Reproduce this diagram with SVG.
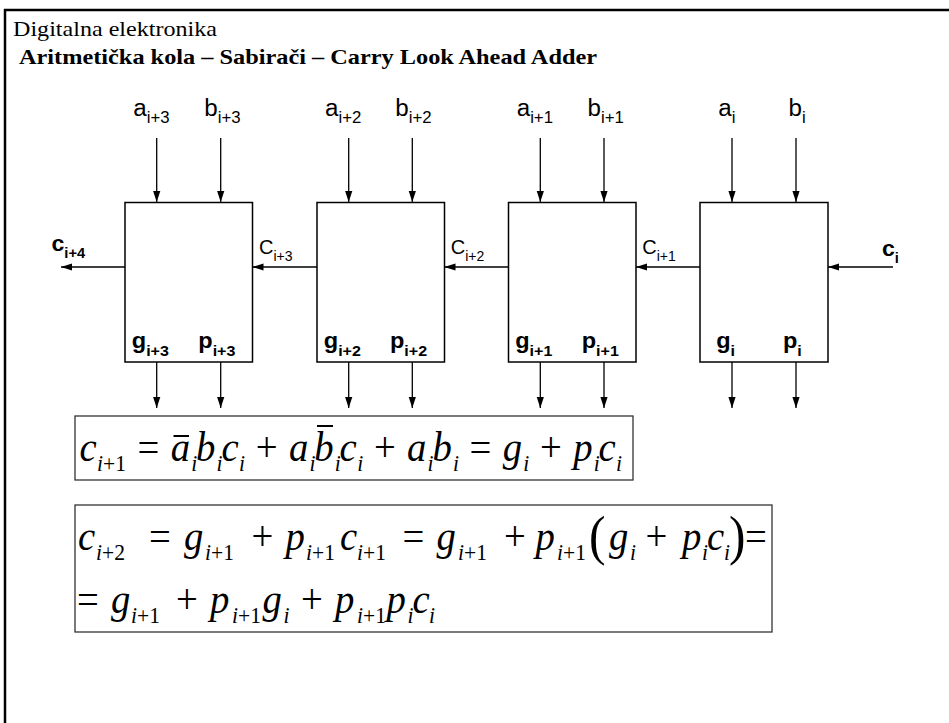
<svg xmlns="http://www.w3.org/2000/svg" width="949" height="723" viewBox="0 0 949 723">
<defs>
<marker id="ah" markerUnits="userSpaceOnUse" markerWidth="11" markerHeight="8" refX="11" refY="4" orient="auto"><path d="M0,0.4 L11,4 L0,7.6 z" fill="#000"/></marker>
<style>
.frame{stroke:#000;stroke-width:2.5;fill:none}
.blk{fill:#fff;stroke:#000;stroke-width:1.5}
.wire{stroke:#000;stroke-width:1.3;fill:none;marker-end:url(#ah)}
.fbox{fill:#fff;stroke:#333;stroke-width:1.3}
.bar{stroke:#000;stroke-width:1.8}
.lab{font-family:"Liberation Sans",Arial,sans-serif;font-size:22px;fill:#000}
.inp{font-size:23px}
.inps{font-size:16px}
.labs{font-size:15px}
.car{font-size:20px}
.cars{font-size:14px}
.bld{font-weight:bold}
.t1{font-family:"Liberation Serif","Times New Roman",serif;font-size:22px;fill:#000}
.t2{font-family:"Liberation Serif","Times New Roman",serif;font-size:21.5px;font-weight:bold;fill:#000}
.mv{font-family:"Liberation Serif","Times New Roman",serif;font-style:italic;font-size:43px;fill:#000}
.ms{font-family:"Liberation Serif","Times New Roman",serif;font-style:italic;font-size:24px;fill:#000}
.up{font-style:normal}
.mp{font-family:"Liberation Serif","Times New Roman",serif;font-size:55px;fill:#000}
</style>
</defs>
<rect width="949" height="723" fill="#fff"/>
<g id="frame">
<path class="frame" d="M4 10 H949 M5 9 V723"/>
</g>
<g id="title">
<text class="t1" x="13" y="36" textLength="204" lengthAdjust="spacingAndGlyphs">Digitalna elektronika</text>
<text class="t2" x="19" y="64" textLength="578" lengthAdjust="spacingAndGlyphs">Aritmetička kola – Sabirači – Carry Look Ahead Adder</text>
</g>
<g id="connectors">
<path class="wire" d="M156.7 138 V202"/>
<path class="wire" d="M220.7 138 V202"/>
<path class="wire" d="M348.7 138 V202"/>
<path class="wire" d="M412.3 138 V202"/>
<path class="wire" d="M540.3 138 V202"/>
<path class="wire" d="M604 138 V202"/>
<path class="wire" d="M732 138 V202"/>
<path class="wire" d="M796 138 V202"/>
<path class="wire" d="M156.7 362 V408"/>
<path class="wire" d="M220.7 362 V408"/>
<path class="wire" d="M348.7 362 V408"/>
<path class="wire" d="M412.3 362 V408"/>
<path class="wire" d="M540.3 362 V408"/>
<path class="wire" d="M604 362 V408"/>
<path class="wire" d="M732 362 V408"/>
<path class="wire" d="M796 362 V408"/>
<path class="wire" d="M125 267 H61"/>
<path class="wire" d="M317 267 H252.5"/>
<path class="wire" d="M508.5 267 H444.5"/>
<path class="wire" d="M700 267 H636"/>
<path class="wire" d="M893 267 H828"/>
</g>
<g id="connector-labels">
<text class="lab bld" transform="translate(51.5,250.5) scale(1.05,1)">c<tspan class="cars" dy="7.5">i+4</tspan></text>
<text class="lab car" x="259" y="254">C<tspan class="cars" dy="7">i+3</tspan></text>
<text class="lab car" x="450.7" y="254">C<tspan class="cars" dy="7">i+2</tspan></text>
<text class="lab car" x="642.3" y="254">C<tspan class="cars" dy="7">i+1</tspan></text>
<text class="lab bld" transform="translate(882,255.5) scale(1.05,1)">c<tspan class="cars" dy="7.5">i</tspan></text>
</g>
<g id="inputs">
<text class="lab inp" transform="translate(133.3,116) scale(1.05,1)">a<tspan class="inps" dy="7">i+3</tspan></text>
<text class="lab inp" transform="translate(204.3,116) scale(1.05,1)">b<tspan class="inps" dy="7">i+3</tspan></text>
<text class="lab inp" transform="translate(325,116) scale(1.05,1)">a<tspan class="inps" dy="7">i+2</tspan></text>
<text class="lab inp" transform="translate(395.3,116) scale(1.05,1)">b<tspan class="inps" dy="7">i+2</tspan></text>
<text class="lab inp" transform="translate(516.7,116) scale(1.05,1)">a<tspan class="inps" dy="7">i+1</tspan></text>
<text class="lab inp" transform="translate(587.6,116) scale(1.05,1)">b<tspan class="inps" dy="7">i+1</tspan></text>
<text class="lab inp" transform="translate(718.3,116) scale(1.05,1)">a<tspan class="inps" dy="7">i</tspan></text>
<text class="lab inp" transform="translate(788.6,116) scale(1.05,1)">b<tspan class="inps" dy="7">i</tspan></text>
</g>
<g id="block-i3">
<rect class="blk" x="125" y="202.5" width="127.5" height="159.5"/>
<text class="lab bld" transform="translate(131.8,348) scale(1.07,1)">g<tspan class="labs" dy="8">i+3</tspan></text>
<text class="lab bld" transform="translate(198.3,348) scale(1.07,1)">p<tspan class="labs" dy="8">i+3</tspan></text>
</g>
<g id="block-i2">
<rect class="blk" x="317" y="202.5" width="127.5" height="159.5"/>
<text class="lab bld" transform="translate(323.8,348) scale(1.07,1)">g<tspan class="labs" dy="8">i+2</tspan></text>
<text class="lab bld" transform="translate(390,348) scale(1.07,1)">p<tspan class="labs" dy="8">i+2</tspan></text>
</g>
<g id="block-i1">
<rect class="blk" x="508.5" y="202.5" width="127.5" height="159.5"/>
<text class="lab bld" transform="translate(515.2,348) scale(1.07,1)">g<tspan class="labs" dy="8">i+1</tspan></text>
<text class="lab bld" transform="translate(581.7,348) scale(1.07,1)">p<tspan class="labs" dy="8">i+1</tspan></text>
</g>
<g id="block-i0">
<rect class="blk" x="700" y="202.5" width="128" height="159.5"/>
<text class="lab bld" transform="translate(716.2,348) scale(1.07,1)">g<tspan class="labs" dy="8">i</tspan></text>
<text class="lab bld" transform="translate(783,348) scale(1.07,1)">p<tspan class="labs" dy="8">i</tspan></text>
</g>
<g id="formula1">
<rect class="fbox" x="75" y="416" width="558" height="64"/>
<g transform="scale(0.9,1)">
<text class="mv" x="88.33" y="461">c</text>
<text class="ms" x="107.78" y="471">i<tspan class="up">+1</tspan></text>
<text class="mv up" x="152.78" y="461">=</text>
<text class="mv" x="189.67" y="461">a</text><text class="ms" x="212.44" y="471">i</text>
<text class="mv" x="217.89" y="461">b</text><text class="ms" x="240.67" y="471">i</text>
<text class="mv" x="246" y="461">c</text><text class="ms" x="265.56" y="471">i</text>
<text class="mv up" x="284.11" y="461">+</text>
<text class="mv" x="321" y="461">a</text><text class="ms" x="343.78" y="471">i</text>
<text class="mv" x="349.22" y="461">b</text><text class="ms" x="372" y="471">i</text>
<text class="mv" x="377.33" y="461">c</text><text class="ms" x="396.89" y="471">i</text>
<text class="mv up" x="415.44" y="461">+</text>
<text class="mv" x="452.33" y="461">a</text><text class="ms" x="475.11" y="471">i</text>
<text class="mv" x="480.56" y="461">b</text><text class="ms" x="503.33" y="471">i</text>
<text class="mv up" x="521.78" y="461">=</text>
<text class="mv" x="558.67" y="461">g</text><text class="ms" x="581.44" y="471">i</text>
<text class="mv up" x="600" y="461">+</text>
<text class="mv" x="636.89" y="461">p</text><text class="ms" x="659.67" y="471">i</text>
<text class="mv" x="665.11" y="461">c</text><text class="ms" x="684.56" y="471">i</text>
</g>
<path class="bar" d="M173.5 436 H189 M317 426 H333"/>
</g>
<g id="formula2">
<rect class="fbox" x="75" y="505" width="697" height="127"/>
<g transform="scale(0.9,1)">
<text class="mv" x="86.67" y="550">c</text>
<text class="ms" x="106.67" y="560">i<tspan class="up">+2</tspan></text>
<text class="mv up" x="165.56" y="550">=</text>
<text class="mv" x="204.44" y="550">g</text><text class="ms" x="227.78" y="560">i<tspan class="up">+1</tspan></text>
<text class="mv up" x="279.44" y="550">+</text>
<text class="mv" x="317.22" y="550">p</text><text class="ms" x="340" y="560">i<tspan class="up">+1</tspan></text>
<text class="mv" x="377.78" y="550">c</text><text class="ms" x="396.67" y="560">i<tspan class="up">+1</tspan></text>
<text class="mv up" x="447.22" y="550">=</text>
<text class="mv" x="485" y="550">g</text><text class="ms" x="508.89" y="560">i<tspan class="up">+1</tspan></text>
<text class="mv up" x="560" y="550">+</text>
<text class="mv" x="595" y="550">p</text><text class="ms" x="618.89" y="560">i<tspan class="up">+1</tspan></text>
<text class="mp" x="654.44" y="554">(</text>
<text class="mv" x="676.67" y="550">g</text><text class="ms" x="700" y="560">i</text>
<text class="mv up" x="717.22" y="550">+</text>
<text class="mv" x="757.78" y="550">p</text><text class="ms" x="780" y="560">i</text>
<text class="mv" x="785.56" y="550">c</text><text class="ms" x="804.44" y="560">i</text>
<text class="mp" x="810" y="554">)</text>
<text class="mv up" x="827.78" y="550">=</text>
<text class="mv up" x="85.56" y="613">=</text>
<text class="mv" x="123.33" y="613">g</text><text class="ms" x="145.56" y="623">i<tspan class="up">+1</tspan></text>
<text class="mv up" x="195.56" y="613">+</text>
<text class="mv" x="233.33" y="613">p</text><text class="ms" x="257.78" y="623">i<tspan class="up">+1</tspan></text>
<text class="mv" x="291.67" y="613">g</text><text class="ms" x="315" y="623">i</text>
<text class="mv up" x="334.44" y="613">+</text>
<text class="mv" x="372.22" y="613">p</text><text class="ms" x="396.67" y="623">i<tspan class="up">+1</tspan></text>
<text class="mv" x="429.44" y="613">p</text><text class="ms" x="452.78" y="623">i</text>
<text class="mv" x="458.33" y="613">c</text><text class="ms" x="476.67" y="623">i</text>
</g>
</g>
</svg>
